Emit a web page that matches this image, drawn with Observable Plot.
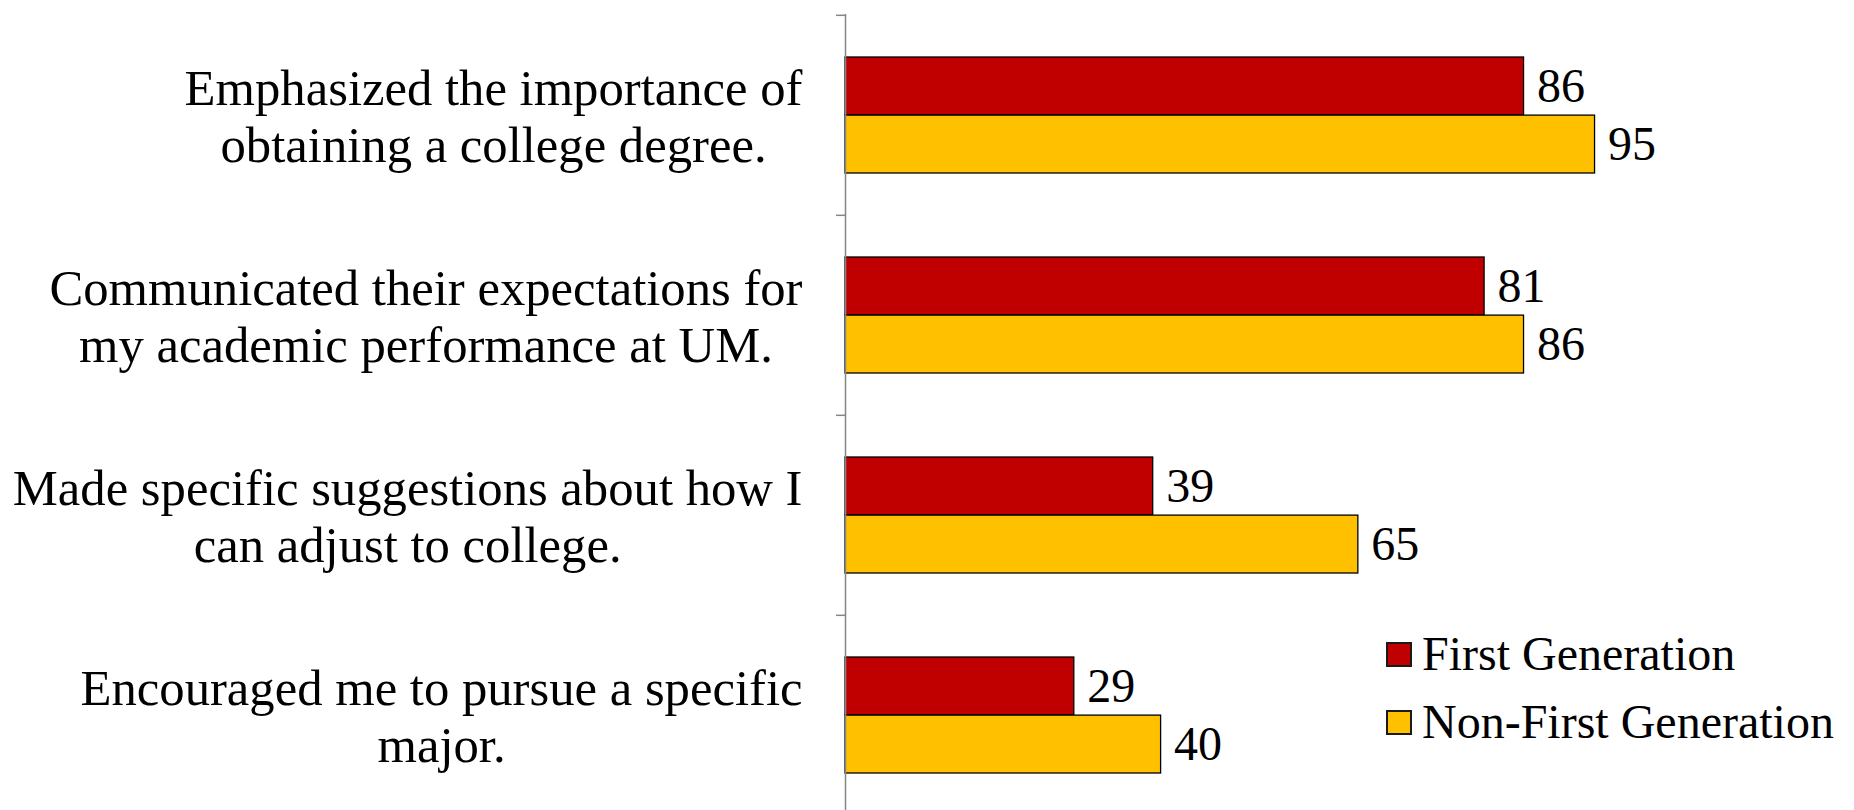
<!DOCTYPE html>
<html>
<head>
<meta charset="utf-8">
<script src="https://cdn.jsdelivr.net/npm/d3@7"></script>
<script src="https://cdn.jsdelivr.net/npm/@observablehq/plot@0.6"></script>
<style>
  html, body { margin: 0; padding: 0; background: #fff; }
  #wrap { position: relative; width: 1854px; height: 810px; overflow: hidden; font-family: "Liberation Serif", "Times New Roman", serif; }
  #legend { position: absolute; left: 1386px; top: 620px; font-size: 48px; line-height: 68px; color: #000; }
  .item { display: flex; align-items: center; white-space: nowrap; }
  .sw { width: 26px; height: 25px; border: 2px solid #1a1a1a; margin-right: 10px; box-sizing: border-box; }
</style>
</head>
<body>
<div id="wrap"><div id="chart"></div><div id="legend"></div></div>
<script>
const categories = [
  "Emphasized the importance of obtaining a college degree.",
  "Communicated their expectations for my academic performance at UM.",
  "Made specific suggestions about how I can adjust to college.",
  "Encouraged me to pursue a specific major."
];
const labelLines = [
  ["Emphasized the importance of", "obtaining a college degree."],
  ["Communicated their expectations for", "my academic performance at UM."],
  ["Made specific suggestions about how I", "can adjust to college."],
  ["Encouraged me to pursue a specific", "major."]
];
const seriesNames = ["First Generation", "Non-First Generation"];
const firstGen = [86, 81, 39, 29];
const nonFirstGen = [95, 86, 65, 40];
const colors = ["#C00000", "#FFC000"];

const FONT = '"Liberation Serif", "Times New Roman", serif';
const catSize = 50.7;
const valSize = 48;

const rows = [];
categories.forEach((c, i) => {
  rows.push({cat: c, series: seriesNames[0], value: firstGen[i]});
  rows.push({cat: c, series: seriesNames[1], value: nonFirstGen[i]});
});

const ctx = document.createElement("canvas").getContext("2d");
ctx.font = `${catSize}px ${FONT}`;
const maxW = labelLines.map(ls => Math.max(...ls.map(l => ctx.measureText(l).width)));

const W = 1854, H = 810;
const marginLeft = 845, marginRight = 220;
const step = 200.4, padIn = 0.42;
const band = step * (1 - padIn);
const half = band / 2;
const gap = 43;

const labelMarks = categories.map((c, i) => Plot.text([c], {
  x: () => 0, y: d => d,
  text: () => labelLines[i].join("\n"),
  textAnchor: "middle", lineAnchor: "middle", lineHeight: 1.12,
  dx: -(gap + maxW[i] / 2), fontSize: catSize, fill: "#000"
}));

const chart = Plot.plot({
  width: W, height: H,
  marginLeft, marginRight, marginTop: 14, marginBottom: -6,
  style: {fontFamily: FONT, background: "transparent", overflow: "visible"},
  x: {domain: [0, 100], axis: null},
  y: {domain: categories, padding: padIn, paddingOuter: padIn / 2, axis: null},
  marks: [
    Plot.barX(rows.filter(d => d.series === seriesNames[0]), {
      x: "value", y: "cat", fill: colors[0], stroke: "#000", strokeWidth: 1.3, insetBottom: half
    }),
    Plot.barX(rows.filter(d => d.series === seriesNames[1]), {
      x: "value", y: "cat", fill: colors[1], stroke: "#000", strokeWidth: 1.3, insetTop: half
    }),
    Plot.axisY({tickSize: 9, dy: -step / 2, tickFormat: () => "", label: null, stroke: "#868686", strokeWidth: 1.5}),
    Plot.ruleX([0], {stroke: "#868686", strokeWidth: 1.5}),
    Plot.text(rows.filter(d => d.series === seriesNames[0]), {
      x: "value", y: "cat", text: d => String(d.value), textAnchor: "start",
      dx: 13, dy: -half / 2, fontSize: valSize, fill: "#000"
    }),
    Plot.text(rows.filter(d => d.series === seriesNames[1]), {
      x: "value", y: "cat", text: d => String(d.value), textAnchor: "start",
      dx: 13, dy: half / 2, fontSize: valSize, fill: "#000"
    }),
    ...labelMarks
  ]
});
document.getElementById("chart").appendChild(chart);

const legend = document.getElementById("legend");
seriesNames.forEach((s, i) => {
  const item = document.createElement("div");
  item.className = "item";
  const sw = document.createElement("span");
  sw.className = "sw";
  sw.style.background = colors[i];
  const t = document.createElement("span");
  t.textContent = s;
  item.appendChild(sw); item.appendChild(t);
  legend.appendChild(item);
});
</script>
</body>
</html>
